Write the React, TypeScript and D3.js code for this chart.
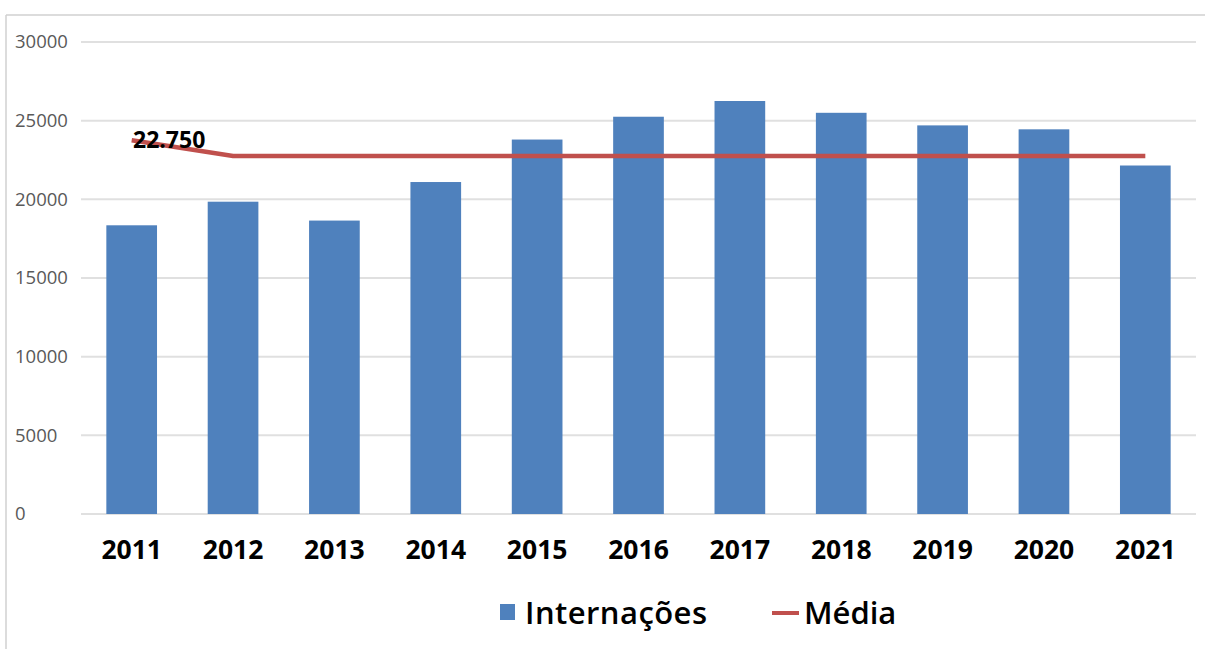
import React from "react";
import * as d3 from "d3";

const years = ["2011","2012","2013","2014","2015","2016","2017","2018","2019","2020","2021"];
const internacoes = [18350, 19850, 18650, 21100, 23800, 25250, 26250, 25500, 24700, 24450, 22150];
const media = [23750, 22750, 22750, 22750, 22750, 22750, 22750, 22750, 22750, 22750, 22750];
const yTicks = [0, 5000, 10000, 15000, 20000, 25000, 30000];
const mediaLabel = "22.750";

const W = 1205, H = 649;
const left = 81, right = 1196, top = 42, bottom = 514;
const font = "'Open Sans', sans-serif";

export default function App() {
  const x = d3.scaleBand<string>().domain(years).range([left, right]).paddingInner(0.5).paddingOuter(0.25);
  const xc = (d: string) => (x(d) as number) + x.bandwidth() / 2;
  const y = d3.scaleLinear().domain([0, 30000]).range([bottom, top]);
  const line = d3.line<number>().x((_, i) => xc(years[i])).y(v => y(v));
  return (
    <svg width={W} height={H} style={{ position: "absolute", left: 0, top: 0, background: "#fff" }}>
      <line x1={6} y1={15} x2={W} y2={15} stroke="#d0d0d0" strokeWidth={1.5} />
      <line x1={6} y1={15} x2={6} y2={H} stroke="#d0d0d0" strokeWidth={1.5} />
      {yTicks.map(t => (
        <g key={t}>
          <line x1={left} x2={right} y1={y(t)} y2={y(t)} stroke="#e0e0e0" strokeWidth={2} />
          <text x={15} y={y(t)} dy="0.35em" fontFamily={font} fontSize={18.5} fill="#595959">{t}</text>
        </g>
      ))}
      {years.map((yr, i) => (
        <rect key={yr} x={x(yr)} y={y(internacoes[i])} width={x.bandwidth()} height={y(0) - y(internacoes[i])} fill="#4f81bd" />
      ))}
      <path d={line(media) as string} fill="none" stroke="#c0504d" strokeWidth={4.5} />
      <text x={133} y={140} dy="0.35em" fontFamily={font} fontSize={23} fontWeight="bold" fill="#000">{mediaLabel}</text>
      {years.map(yr => (
        <text key={yr} x={xc(yr)} y={550} dy="0.35em" textAnchor="middle" fontFamily={font} fontSize={26.5} fontWeight="bold" fill="#000">{yr}</text>
      ))}
      <rect x={500} y={604} width={15} height={16} fill="#4f81bd" />
      <text x={525} y={613} dy="0.35em" fontFamily={font} fontSize={31} fontWeight={600} fill="#000" textLength={182}>Internações</text>
      <line x1={772} x2={799} y1={613} y2={613} stroke="#c0504d" strokeWidth={4} />
      <text x={804} y={613} dy="0.35em" fontFamily={font} fontSize={31} fontWeight={600} fill="#000">Média</text>
    </svg>
  );
}
